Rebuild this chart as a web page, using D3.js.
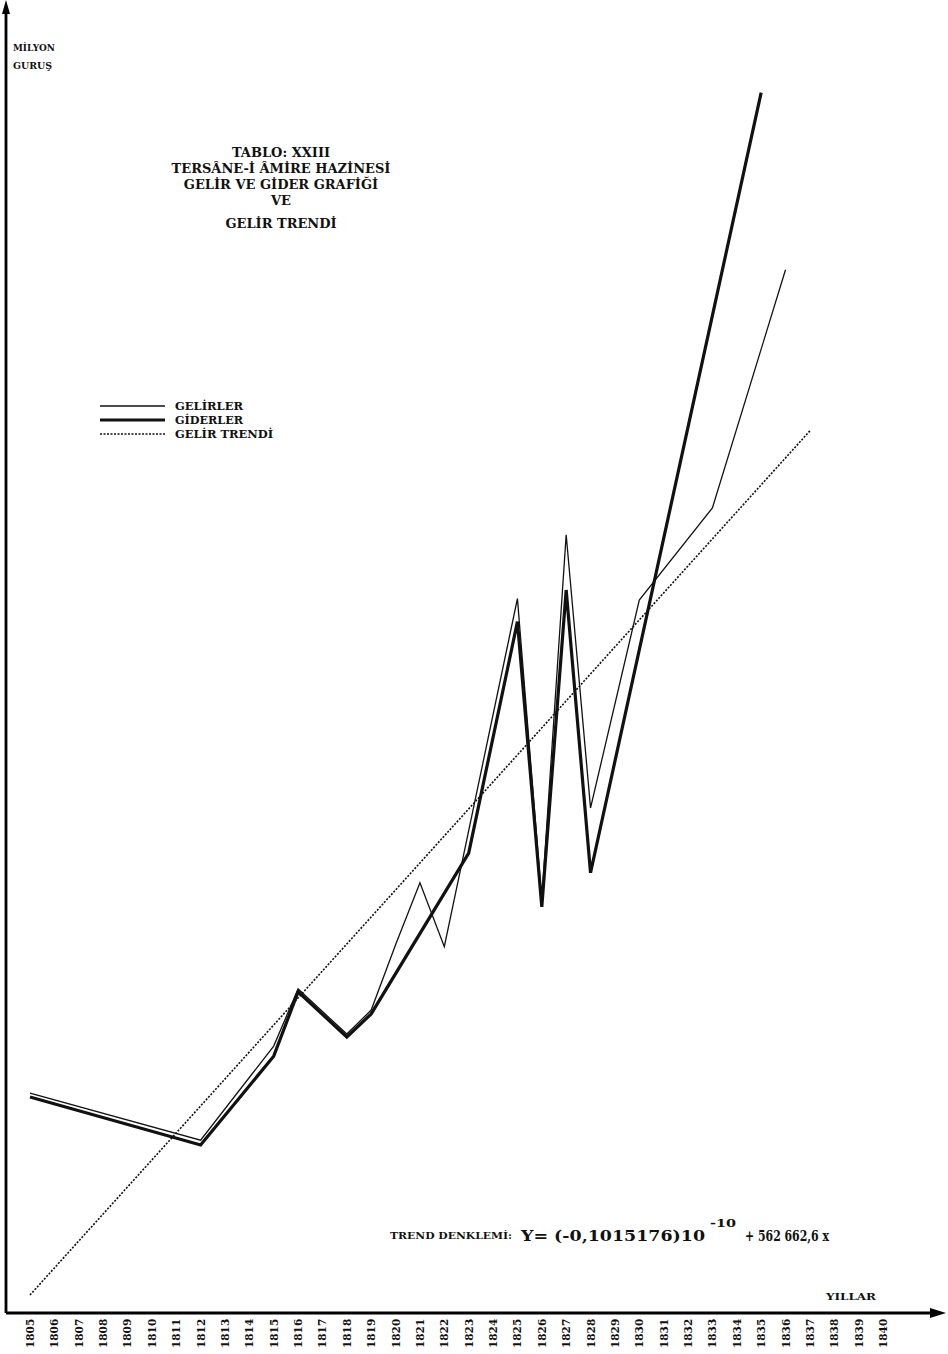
<!DOCTYPE html>
<html lang="tr">
<head>
<meta charset="UTF-8">
<title>Tablo XXIII</title>
<script src="https://d3js.org/d3.v7.min.js"></script>
<style>
    body { margin: 0; background: #fff; }
    text { font-family: "DejaVu Serif", "Liberation Serif", serif; font-weight: bold; fill: #111; }
    .thin { fill: none; stroke: #111; stroke-width: 1.3px; stroke-linejoin: miter; }
    .thick { fill: none; stroke: #111; stroke-width: 3.2px; stroke-linejoin: miter; }
    .trend { fill: none; stroke: #111; stroke-width: 1.6px; stroke-dasharray: 2 1.5; }
    .axis { stroke: #000; stroke-width: 2.8px; }
</style>
</head>
<body>
<svg></svg>
<script>
    // years on the axis
    const years = d3.range(1805, 1841);

    // GELİRLER (million kuruş)
    const gelirYears = [1805, 1812, 1815, 1816, 1818, 1819, 1820, 1821, 1822, 1825, 1826, 1827, 1828, 1830, 1833, 1836];
    const gelirValues = [4.58, 3.60, 5.56, 6.75, 5.81, 6.31, 7.67, 8.96, 7.63, 14.88, 8.60, 16.21, 10.52, 14.85, 16.77, 21.73];

    // GİDERLER
    const giderYears = [1805, 1812, 1815, 1816, 1818, 1819, 1823, 1825, 1826, 1827, 1828, 1835];
    const giderValues = [4.50, 3.50, 5.35, 6.69, 5.75, 6.23, 9.58, 14.40, 8.46, 15.06, 9.17, 25.42];

    // GELİR TRENDİ (end points)
    const trendYears = [1805, 1837];
    const trendValues = [0.375, 18.375];

    const W = 948, H = 1354;
    const x0 = 6, y0 = 1313;

    const svg = d3.select("svg").attr("width", W).attr("height", H);

    const x = d3.scaleLinear().domain([1805, 1840]).range([30, 883]);
    const y = d3.scaleLinear().domain([0, 27.35]).range([y0, 0]);

    const line = d3.line().x(d => x(d[0])).y(d => y(d[1]));

    // axes
    svg.append("line").attr("class", "axis")
        .attr("x1", x0).attr("y1", y0).attr("x2", x0).attr("y2", 8);
    svg.append("path").attr("d", `M${x0 - 4},14 L${x0},0 L${x0 + 4},14 Z`).attr("fill", "#000");

    svg.append("line").attr("class", "axis")
        .attr("x1", x0).attr("y1", y0).attr("x2", 936).attr("y2", y0);
    svg.append("path").attr("d", `M930,${y0 - 5} L946,${y0} L930,${y0 + 5} Z`).attr("fill", "#000");

    // year labels (rotated)
    svg.append("g").selectAll("text")
        .data(years)
        .join("text")
        .attr("transform", d => `translate(${x(d) + 4},1348) rotate(-90)`)
        .attr("font-size", "10.5px")
        .attr("text-anchor", "start")
        .text(d => d);

    // lines
    svg.append("path").attr("class", "trend")
        .attr("d", line(d3.zip(trendYears, trendValues)));
    svg.append("path").attr("class", "thick")
        .attr("d", line(d3.zip(giderYears, giderValues)));
    svg.append("path").attr("class", "thin")
        .attr("d", line(d3.zip(gelirYears, gelirValues)));

    // stretched text helper: width fixed, glyphs scaled
    function label(xp, yp, size, w, str) {
        return svg.append("text").attr("x", xp).attr("y", yp)
            .attr("font-size", size + "px")
            .attr("textLength", w).attr("lengthAdjust", "spacingAndGlyphs")
            .text(str);
    }

    // y label
    label(13, 51, 9.5, 42, "MİLYON");
    label(13, 69, 9.5, 39, "GURUŞ");
    label(826, 1300, 10, 50, "YILLAR");

    // title
    const title = ["TABLO: XXIII", "TERSÂNE-İ ÂMİRE HAZİNESİ", "GELİR VE GİDER GRAFİĞİ", "VE", "GELİR TRENDİ"];
    const titleY = [157, 173, 189, 205, 228];
    svg.append("g").selectAll("text")
        .data(title)
        .join("text")
        .attr("x", 281)
        .attr("y", (d, i) => titleY[i])
        .attr("text-anchor", "middle")
        .attr("font-size", "13px")
        .text(d => d);

    // legend
    const legend = [
        { label: "GELİRLER", cls: "thin", y: 406, w: 68 },
        { label: "GİDERLER", cls: "thick", y: 420, w: 68 },
        { label: "GELİR TRENDİ", cls: "trend", y: 434, w: 98 }
    ];
    const lg = svg.append("g");
    lg.selectAll("line").data(legend).join("line")
        .attr("class", d => d.cls)
        .attr("x1", 100).attr("x2", 165)
        .attr("y1", d => d.y).attr("y2", d => d.y);
    legend.forEach(d => label(175, d.y + 4, 10.5, d.w, d.label));

    // trend equation
    label(390, 1239, 10, 122, "TREND DENKLEMİ:");
    label(521, 1241, 15, 184, "Y= (-0,1015176)10");
    label(710, 1227, 11, 26, "-10");
    label(745, 1241, 15, 84, "+ 562 662,6 x");
</script>
</body>
</html>
